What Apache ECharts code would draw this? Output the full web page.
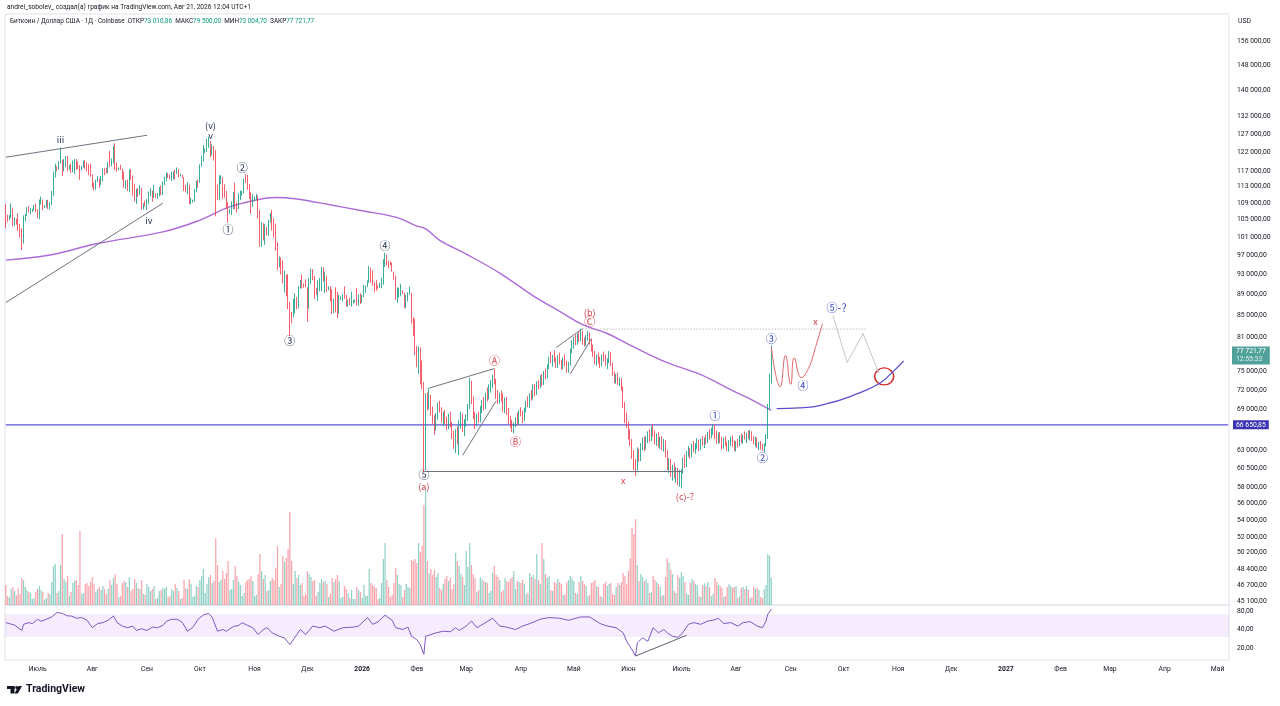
<!DOCTYPE html>
<html><head><meta charset="utf-8">
<script src="https://cdn.jsdelivr.net/npm/echarts@6/dist/echarts.min.js"></script>
<style>html,body{margin:0;padding:0;background:#fff}#c{width:1280px;height:706px}</style>
</head><body><div id="c"></div>
<script>
// ---------- DATA (prices in thousands USD, rows: [open, high, low, close]) ----------
const ohlc2025_06 = [[108.7,108.8,103.0,106.0],[106.0,106.2,104.5,105.5],[105.5,106.1,104.9,105.6],[105.6,108.9,105.4,107.1],[107.1,107.8,103.4,104.6],[104.6,105.6,103.6,104.9],[104.9,105.2,103.9,104.6],[104.6,106.5,102.4,103.3],[103.3,104.0,101.0,102.2],[102.2,103.0,98.2,100.9],[100.9,106.0,99.6,105.6],[105.6,106.3,104.6,106.0],[106.0,108.0,105.9,107.3],[107.3,108.2,106.7,106.9],[106.9,107.7,106.3,107.1],[107.1,107.6,106.8,107.4],[107.4,108.5,107.2,108.4],[108.4,108.8,106.8,107.1]];
const ohlc2025_07 = [[107.1,107.5,105.3,105.7],[105.7,109.8,105.1,108.8],[108.8,110.5,108.6,109.6],[109.6,109.8,107.3,108.0],[108.0,108.4,107.8,108.2],[108.2,109.7,107.9,109.2],[109.2,109.7,107.5,108.3],[108.3,109.2,107.4,108.9],[108.9,111.9,108.4,111.3],[111.3,116.8,110.6,115.9],[115.9,118.9,115.3,117.5],[117.5,118.2,116.9,117.4],[117.4,119.5,117.3,119.1],[119.1,123.2,118.9,119.8],[119.8,119.9,115.7,117.7],[117.7,120.1,116.9,118.7],[118.7,120.9,117.9,119.4],[119.4,120.9,116.9,117.9],[117.9,118.5,117.3,117.9],[117.9,118.9,116.5,117.3],[117.3,119.7,116.6,117.4],[117.4,120.2,116.2,119.9],[119.9,120.1,117.3,118.7],[118.7,119.5,117.5,118.3],[118.3,118.5,114.7,117.6],[117.6,118.3,117.2,117.9],[117.9,119.7,117.8,119.4],[119.4,119.8,117.5,118.0],[118.0,119.3,116.9,117.9],[117.9,118.7,115.9,117.8],[117.8,118.9,115.5,115.7]];
const ohlc2025_08 = [[115.7,116.1,112.7,113.3],[113.3,114.0,112.0,112.5],[112.5,114.7,112.2,114.2],[114.2,115.7,114.1,115.0],[115.0,115.1,112.7,114.1],[114.1,115.7,113.4,115.0],[115.0,117.6,114.3,117.5],[117.5,117.7,115.9,116.7],[116.7,117.8,116.3,116.5],[116.5,119.3,116.4,119.3],[119.3,122.3,118.1,118.7],[118.7,120.3,118.2,120.1],[120.1,123.7,118.9,123.3],[123.3,124.4,117.2,118.3],[118.3,119.2,116.8,117.4],[117.4,117.9,117.2,117.5],[117.5,118.6,117.2,117.4],[117.4,117.6,114.7,116.3],[116.3,116.8,112.7,112.9],[112.9,114.6,112.4,114.3],[114.3,114.8,111.9,112.4],[112.4,117.4,111.7,116.9],[116.9,117.4,114.7,115.4],[115.4,115.8,110.7,113.5],[113.5,113.7,109.3,110.1],[110.1,112.4,108.7,111.8],[111.8,112.6,110.4,111.2],[111.2,113.4,110.9,112.6],[112.6,112.7,107.4,108.4],[108.4,108.9,107.4,108.8],[108.8,109.5,108.1,108.2]];
const ohlc2025_09 = [[108.2,109.9,107.3,109.2],[109.2,111.8,108.7,111.2],[111.2,112.6,110.6,111.7],[111.7,112.0,109.3,110.7],[110.7,113.4,110.2,110.7],[110.7,111.3,110.2,110.2],[110.2,111.4,110.0,111.1],[111.1,112.9,110.6,112.1],[112.1,113.3,110.9,111.5],[111.5,114.3,110.9,113.9],[113.9,115.5,113.4,115.5],[115.5,116.6,114.3,116.0],[116.0,116.4,115.2,115.9],[115.9,116.1,114.8,115.3],[115.3,116.8,114.4,115.4],[115.4,116.9,114.8,116.8],[116.8,117.3,114.8,116.5],[116.5,117.9,116.2,117.1],[117.1,117.5,115.3,115.7],[115.7,116.3,115.6,115.7],[115.7,116.0,115.2,115.3],[115.3,115.4,111.9,112.7],[112.7,113.4,111.6,112.0],[112.0,114.0,111.1,113.3],[113.3,113.5,108.7,109.0],[109.0,110.3,108.6,109.7],[109.7,109.8,109.1,109.7],[109.7,112.4,109.3,112.1],[112.1,114.5,111.6,114.4],[114.4,114.8,112.7,114.1]];
const ohlc2025_10 = [[114.1,118.7,113.9,118.6],[118.6,121.0,118.2,120.6],[120.6,123.9,119.4,122.3],[122.3,122.9,121.7,122.4],[122.4,125.6,122.0,123.5],[123.5,126.2,123.1,124.8],[124.8,125.1,120.6,121.4],[121.4,124.1,121.1,123.3],[123.3,123.7,119.7,121.7],[121.7,122.5,105.8,113.2],[113.2,113.5,109.7,110.7],[110.7,115.8,109.6,115.1],[115.1,115.9,113.6,115.3],[115.3,115.4,110.0,113.0],[113.0,113.6,110.2,110.8],[110.8,111.9,107.5,108.2],[108.2,109.2,104.3,106.5],[106.5,107.5,106.4,107.2],[107.2,109.4,106.1,108.6],[108.6,111.7,107.5,110.5],[110.5,114.0,107.5,108.4],[108.4,109.1,106.7,107.6],[107.6,111.3,107.5,110.1],[110.1,112.0,109.7,111.0],[111.0,111.9,110.7,111.6],[111.6,115.0,111.3,114.5],[114.5,116.1,113.9,114.1],[114.1,116.0,112.2,112.9],[112.9,113.6,109.9,110.0],[110.0,111.6,106.4,108.3],[108.3,111.1,108.0,109.6]];
const ohlc2025_11 = [[109.6,110.5,109.4,110.1],[110.1,111.2,109.6,110.6],[110.6,110.8,105.3,106.5],[106.5,107.3,98.9,101.5],[101.5,104.5,98.9,103.9],[103.9,104.2,100.3,101.3],[101.3,104.0,99.3,103.3],[103.3,103.4,101.4,102.3],[102.3,105.0,101.3,104.7],[104.7,106.6,104.3,106.0],[106.0,107.3,102.5,103.0],[103.0,105.3,100.9,101.7],[101.7,104.1,98.0,99.7],[99.7,99.9,94.0,94.5],[94.5,96.8,94.5,95.6],[95.6,96.6,93.0,94.2],[94.2,96.0,91.2,92.2],[92.2,93.8,89.3,92.9],[92.9,92.9,88.6,91.5],[91.5,93.1,86.1,86.6],[86.6,87.5,81.2,85.1],[85.1,85.6,83.5,84.7],[84.7,88.1,84.6,86.8],[86.8,89.2,85.3,88.3],[88.3,88.5,86.1,87.3],[87.3,90.6,86.3,90.5],[90.5,91.9,90.1,91.3],[91.3,93.0,90.2,90.9],[90.9,91.2,90.3,90.8],[90.8,92.0,90.4,90.4]];
const ohlc2025_12 = [[90.4,90.4,83.8,86.3],[86.3,92.3,86.2,91.3],[91.3,94.2,91.0,93.5],[93.5,94.1,91.8,92.1],[92.1,92.7,88.1,89.4],[89.4,90.3,88.9,89.3],[89.3,91.8,87.7,90.4],[90.4,92.3,89.6,90.6],[90.6,94.6,89.6,92.7],[92.7,94.5,91.6,92.0],[92.0,93.6,89.3,92.5],[92.5,92.7,89.5,90.3],[90.3,90.6,89.8,90.3],[90.3,90.6,87.6,88.2],[88.2,90.0,85.2,86.4],[86.4,88.2,85.3,87.8],[87.8,90.4,85.5,86.2],[86.2,89.4,84.4,85.5],[85.5,88.9,85.2,88.1],[88.1,88.6,87.9,88.3],[88.3,89.0,87.6,88.6],[88.6,90.6,88.1,88.5],[88.5,88.9,86.6,87.4],[87.4,87.9,86.6,87.6],[87.6,88.3,86.9,87.2],[87.2,89.5,86.6,87.3],[87.3,87.9,87.2,87.8],[87.8,88.0,87.4,87.8],[87.8,90.3,86.8,87.1],[87.1,89.0,86.7,88.4],[88.4,89.2,87.1,87.5]];
const ohlc2026_01 = [[87.5,88.9,87.3,88.7],[88.7,90.9,88.4,90.0],[90.0,90.7,89.3,90.6],[90.6,91.8,90.4,91.5],[91.5,94.7,91.3,93.9],[93.9,94.4,91.3,93.7],[93.7,93.8,90.7,91.3],[91.3,91.5,89.4,91.0],[91.0,91.9,89.7,90.5],[90.5,90.8,90.1,90.4],[90.4,91.3,90.3,90.8],[90.8,92.4,90.2,91.2],[91.2,96.2,90.9,95.4],[95.4,97.6,94.6,97.0],[97.0,97.2,94.9,95.6],[95.6,95.9,94.3,95.5],[95.5,95.7,94.9,95.1],[95.1,95.5,93.6,93.6],[93.6,93.6,91.9,92.6],[92.6,92.8,87.9,88.3],[88.3,90.4,87.3,89.4],[89.4,90.3,88.4,89.5],[89.5,91.1,88.6,89.5],[89.5,89.8,89.1,89.2],[89.2,89.3,86.3,86.6],[86.6,88.9,86.3,88.3],[88.3,89.4,87.6,89.2],[89.2,90.5,88.9,89.2],[89.2,89.3,83.4,84.5],[84.5,84.6,81.1,84.1],[84.1,84.3,77.8,78.6]];
const ohlc2026_02 = [[78.6,79.4,75.7,77.0],[77.0,79.3,74.6,78.7],[78.7,79.1,72.9,75.7],[75.7,76.9,72.1,73.0],[73.0,73.3,60.1,62.9],[62.9,71.5,60.3,70.5],[70.5,71.6,68.8,69.3],[69.3,72.3,69.0,70.8],[70.8,71.2,68.0,68.7],[68.7,69.4,66.8,67.2],[67.2,68.1,65.2,66.1],[66.1,68.4,65.8,67.9],[67.9,70.0,67.4,69.6],[69.6,70.3,68.5,68.9],[68.9,69.3,67.0,67.5],[67.5,68.6,66.5,68.2],[68.2,68.9,66.7,67.0],[67.0,67.9,65.9,66.4],[66.4,68.3,66.0,67.8],[67.8,68.6,66.3,66.8],[66.8,67.1,64.6,65.0],[65.0,65.8,63.2,64.1],[64.1,66.0,62.6,65.6],[65.6,66.4,63.8,64.3],[64.3,67.4,62.3,67.0],[67.0,68.6,66.1,67.9],[67.9,68.3,65.6,66.2],[66.2,67.5,65.0,67.1]];
const ohlc2026_03 = [[67.1,68.2,66.4,67.6],[67.6,69.8,67.2,69.4],[69.4,74.0,69.0,72.8],[72.8,73.5,69.8,70.4],[70.4,71.0,67.5,68.0],[68.0,68.6,66.0,66.9],[66.9,68.3,66.5,67.8],[67.8,68.6,66.9,67.3],[67.3,69.5,67.0,69.1],[69.1,70.4,68.4,70.0],[70.0,70.9,68.8,69.4],[69.4,71.6,69.0,71.2],[71.2,72.4,70.2,70.8],[70.8,72.9,70.5,72.5],[72.5,73.6,71.6,73.2],[73.2,74.5,72.3,74.0],[74.0,75.4,72.9,73.4],[73.4,73.8,70.6,71.1],[71.1,72.0,69.8,70.5],[70.5,71.6,69.9,71.2],[71.2,71.9,70.2,70.6],[70.6,71.4,68.6,69.0],[69.0,70.8,68.4,70.2],[70.2,70.9,68.1,68.5],[68.5,69.2,66.8,67.3],[67.3,68.0,66.2,66.6],[66.6,67.4,65.6,66.0],[66.0,67.0,65.4,66.8],[66.8,67.8,66.3,67.4],[67.4,68.5,66.6,66.9],[66.9,68.9,66.7,68.6]];
const ohlc2026_04 = [[68.6,69.3,67.9,68.1],[68.1,68.8,66.9,67.5],[67.5,69.2,67.2,68.9],[68.9,70.3,68.5,70.0],[70.0,71.0,69.3,69.6],[69.6,71.5,69.2,71.1],[71.1,72.0,70.3,70.8],[70.8,72.9,70.5,72.5],[72.5,73.0,71.0,71.5],[71.5,73.4,71.2,73.0],[73.0,73.6,72.1,72.6],[72.6,74.4,72.3,74.0],[74.0,74.6,72.6,73.1],[73.1,75.1,72.8,74.8],[74.8,75.5,73.7,74.2],[74.2,76.2,73.9,75.9],[75.9,77.5,75.4,77.0],[77.0,78.4,76.4,76.9],[76.9,77.8,75.8,77.5],[77.5,78.6,76.6,77.0],[77.0,77.4,75.6,76.0],[76.0,77.8,75.6,77.4],[77.4,78.2,76.2,76.5],[76.5,77.0,75.3,75.8],[75.8,77.4,75.4,77.0],[77.0,77.9,75.9,76.3],[76.3,76.8,74.8,75.4],[75.4,76.6,74.8,76.3],[76.3,78.9,76.0,78.6],[78.6,80.4,78.1,79.8]];
const ohlc2026_05 = [[79.8,81.0,78.9,80.6],[80.6,81.4,79.5,80.1],[80.1,81.6,79.6,81.2],[81.2,82.0,80.1,80.6],[80.6,82.4,80.2,81.8],[81.8,82.1,79.6,80.1],[80.1,80.9,79.3,79.8],[79.8,81.3,79.4,81.0],[81.0,82.1,80.3,81.6],[81.6,81.8,79.6,80.0],[80.0,80.6,78.4,78.8],[78.8,79.6,77.5,77.9],[77.9,78.5,76.2,76.6],[76.6,77.9,76.0,77.4],[77.4,78.2,76.3,76.8],[76.8,77.5,75.6,76.1],[76.1,77.9,75.8,77.6],[77.6,78.4,76.7,77.0],[77.0,77.9,75.9,76.3],[76.3,77.2,75.4,76.8],[76.8,78.5,76.4,78.1],[78.1,78.3,75.9,76.2],[76.2,76.5,74.3,74.6],[74.6,75.0,73.1,73.5],[73.5,74.6,73.0,74.3],[74.3,74.8,72.8,73.2],[73.2,74.0,72.6,73.7],[73.7,73.9,71.9,72.3],[72.3,72.6,69.2,69.7],[69.7,70.1,66.9,67.3],[67.3,68.5,66.2,66.8]];
const ohlc2026_06 = [[66.8,67.2,64.5,65.0],[65.0,66.0,63.6,64.1],[64.1,64.6,61.8,62.3],[62.3,63.0,60.3,60.9],[60.9,61.8,59.5,60.4],[60.4,63.4,60.2,62.8],[62.8,63.2,61.4,61.9],[61.9,64.0,61.5,63.6],[63.6,64.8,63.0,64.3],[64.3,64.9,62.9,63.5],[63.5,65.0,63.1,64.7],[64.7,65.7,64.0,65.3],[65.3,66.0,64.2,64.6],[64.6,66.4,64.3,66.0],[66.0,66.8,64.9,65.3],[65.3,65.8,63.8,64.2],[64.2,65.4,63.6,65.0],[65.0,65.6,63.4,63.8],[63.8,64.9,63.2,64.5],[64.5,65.0,63.0,63.4],[63.4,64.6,62.8,64.1],[64.1,64.4,62.0,62.4],[62.4,63.0,60.3,60.8],[60.8,61.9,59.9,61.5],[61.5,61.8,59.4,59.9],[59.9,61.0,58.9,60.6],[60.6,61.3,59.2,59.6],[59.6,60.7,58.6,60.2],[60.2,60.6,58.3,58.8],[58.8,60.3,58.1,59.9]];
const ohlc2026_07 = [[59.9,60.4,57.9,60.1],[60.1,62.0,59.8,61.7],[61.7,62.4,60.6,61.0],[61.0,62.9,60.7,62.6],[62.6,63.6,62.1,62.9],[62.9,63.3,61.8,62.2],[62.2,63.9,62.0,63.6],[63.6,64.3,62.7,63.1],[63.1,64.0,62.5,63.8],[63.8,64.7,63.2,64.1],[64.1,64.5,62.9,63.3],[63.3,64.6,63.0,64.4],[64.4,65.0,63.6,63.9],[63.9,64.8,63.3,64.5],[64.5,65.2,63.8,64.2],[64.2,65.6,64.0,65.3],[65.3,66.0,64.5,65.0],[65.0,66.2,64.7,65.9],[65.9,66.7,65.2,66.3],[66.3,66.7,64.6,65.0],[65.0,65.8,63.9,64.3],[64.3,65.5,63.9,65.2],[65.2,65.6,64.0,64.4],[64.4,64.9,63.1,63.5],[63.5,64.8,63.2,64.5],[64.5,65.0,63.6,63.9],[63.9,64.2,62.9,63.2],[63.2,64.4,62.8,64.1],[64.1,64.9,63.6,64.6],[64.6,65.1,63.5,63.8],[63.8,64.4,62.9,63.3]];
const ohlc2026_08 = [[63.3,64.3,62.8,64.0],[64.0,64.6,63.4,63.9],[63.9,65.1,63.6,64.8],[64.8,65.4,64.0,64.3],[64.3,65.2,63.9,65.0],[65.0,65.7,64.5,64.8],[64.8,65.5,64.0,65.2],[65.2,65.8,64.6,65.0],[65.0,65.9,64.4,65.5],[65.5,65.7,64.3,64.6],[64.6,65.0,63.8,64.1],[64.1,64.9,63.5,64.5],[64.5,64.8,63.3,63.6],[63.6,64.2,63.0,63.9],[63.9,64.3,63.1,63.4],[63.4,63.9,62.9,63.2],[63.2,64.0,62.7,63.8],[63.8,65.3,63.5,64.9],[64.9,69.8,64.6,69.4],[69.4,74.6,68.9,73.01086],[73.01086,79.5,73.0047,77.72177]];

// Volume, thousands BTC per day
const vol2025_06 = [4.0,1.8,1.5,3.2,3.6,2.8,1.9,3.4,2.2,5.4,5.0,3.6,3.0,2.6,2.4,1.2,1.4,2.6];
const vol2025_07 = [3.2,3.8,3.0,2.6,1.1,1.4,2.4,2.2,4.6,7.8,8.2,2.4,2.8,8.0,14.2,5.2,4.6,5.8,1.8,2.6,4.4,4.8,5.0,4.0,14.8,2.2,2.4,4.2,4.4,3.8,4.6];
const vol2025_08 = [5.6,4.2,2.6,3.2,3.6,3.0,3.8,3.2,2.2,3.2,5.0,4.0,5.4,6.2,4.2,1.6,1.8,4.4,4.8,4.6,3.6,5.6,2.8,3.2,5.2,4.4,3.4,3.2,5.0,2.2,2.0];
const vol2025_09 = [4.2,3.6,2.8,3.2,3.8,1.2,1.4,2.8,3.0,3.4,3.2,3.6,1.6,1.8,3.2,2.8,4.2,3.4,2.8,1.2,1.4,5.0,3.4,3.2,5.2,4.2,1.6,1.8,3.8,3.6];
const vol2025_10 = [5.0,5.8,7.2,2.4,4.2,5.6,6.0,4.4,4.8,13.4,8.0,4.6,5.0,6.8,5.2,6.4,8.8,3.0,3.2,5.0,7.8,5.8,4.6,4.0,1.8,2.4,4.6,5.0,5.2,5.8,4.8];
const vol2025_11 = [1.8,2.0,6.2,10.2,6.8,5.2,6.0,2.8,3.0,4.8,5.4,5.0,7.4,11.8,3.6,4.2,9.8,8.6,9.4,11.2,18.6,8.8,4.2,6.8,5.4,6.0,4.0,4.4,1.8,2.2];
const vol2025_12 = [6.8,6.2,5.6,4.8,5.0,1.8,2.6,4.4,5.2,4.6,4.8,4.2,1.6,2.2,5.4,4.6,5.2,6.0,4.8,1.4,1.6,3.8,3.2,2.4,1.4,3.0,1.2,1.2,3.6,3.0,2.6];
const vol2026_01 = [1.4,4.0,1.8,1.8,7.2,4.4,4.0,3.6,3.4,1.2,1.4,4.4,9.2,12.4,5.0,3.6,1.6,2.0,4.4,7.4,6.0,4.2,4.0,1.6,3.0,4.2,3.6,3.4,9.0,8.8,9.2];
const vol2026_02 = [8.4,12.4,10.6,11.8,20.0,23.4,8.8,6.4,7.2,6.0,7.0,5.6,6.4,3.4,3.0,4.2,5.2,5.8,4.8,5.4,3.2,4.2,10.4,8.8,7.8,6.2,5.6,4.0];
const vol2026_03 = [10.8,7.6,12.4,8.0,6.2,5.4,2.6,3.0,5.6,5.2,4.8,4.6,4.4,2.4,2.8,6.4,7.8,6.0,5.6,5.0,2.6,3.0,5.4,4.8,4.6,5.2,5.6,6.8,3.2,4.8,4.6];
const vol2026_04 = [4.4,5.0,4.2,2.2,2.4,6.4,5.6,6.0,5.2,10.2,5.0,4.2,12.4,9.2,6.2,5.4,5.8,3.0,2.8,4.6,4.4,5.2,4.6,4.2,2.0,2.2,4.6,5.0,5.8,5.4];
const vol2026_05 = [4.8,2.4,2.2,4.6,5.8,4.8,4.2,3.8,1.8,2.0,4.4,4.6,5.0,3.8,3.6,1.8,1.6,4.2,4.6,3.8,4.2,4.4,2.2,2.0,3.6,4.4,4.0,4.6,6.4,5.8,4.2];
const vol2026_06 = [6.8,9.4,15.4,14.2,17.2,8.0,4.8,6.2,5.6,4.8,5.2,4.4,2.4,2.6,5.8,5.0,4.6,4.2,3.6,1.8,2.0,5.6,9.4,8.4,7.0,6.2,2.8,2.4,6.0,5.4];
const vol2026_07 = [6.6,5.8,4.6,2.2,2.0,4.4,5.2,4.8,4.2,4.0,1.8,1.6,4.0,4.4,3.8,4.6,3.6,1.8,2.2,5.4,4.6,4.0,3.8,3.4,1.6,1.8,3.6,4.2,3.8,3.4,3.6];
const vol2026_08 = [3.8,1.4,1.8,3.4,3.6,3.2,3.8,3.0,1.4,1.6,3.6,3.2,3.4,3.0,1.6,1.4,3.2,4.0,10.2,9.8,5.4];

// 200-day moving average (thousands USD)
const ma200 = [['2025-06-13',96.0],['2025-07-08',97.1],['2025-08-04',99.6],['2025-09-10',102.2],['2025-10-01',104.9],['2025-10-17',107.9],['2025-11-01',109.6],['2025-11-13',110.3],['2025-11-24',110.0],['2025-12-13',108.6],['2026-01-01',107.1],['2026-01-20',105.6],['2026-01-31',103.7],['2026-02-06',102.9],['2026-02-14',100.3],['2026-03-01',97.3],['2026-03-20',93.3],['2026-04-08',88.7],['2026-04-23',85.7],['2026-05-06',83.2],['2026-05-20',81.6],['2026-06-04',79.2],['2026-06-23',76.5],['2026-07-12',74.5],['2026-07-30',71.9],['2026-08-11',70.3],['2026-08-21',68.8]];

// RSI(14)
const rsi14 = [['2025-06-13',51.5],['2025-06-15',49.6],['2025-06-18',47.0],['2025-06-22',38.4],['2025-06-23',48.3],['2025-06-26',51.5],['2025-06-28',49.6],['2025-07-01',58.4],['2025-07-03',54.1],['2025-07-06',58.4],['2025-07-09',63.7],['2025-07-12',75.3],['2025-07-15',72.5],['2025-07-18',66.1],['2025-07-20',66.1],['2025-07-23',60.6],['2025-07-26',62.2],['2025-07-29',56.2],['2025-08-01',42.6],['2025-08-04',49.6],['2025-08-07',51.5],['2025-08-10',56.2],['2025-08-13',66.1],['2025-08-15',51.5],['2025-08-18',45.3],['2025-08-21',42.6],['2025-08-24',45.3],['2025-08-26',38.4],['2025-08-29',41.0],['2025-09-01',38.4],['2025-09-04',43.5],['2025-09-07',42.6],['2025-09-10',46.4],['2025-09-12',54.1],['2025-09-15',58.4],['2025-09-18',58.4],['2025-09-21',52.0],['2025-09-24',37.4],['2025-09-27',43.1],['2025-09-30',58.4],['2025-10-03',68.7],['2025-10-06',72.5],['2025-10-08',62.9],['2025-10-11',37.4],['2025-10-14',39.8],['2025-10-16',37.4],['2025-10-20',44.6],['2025-10-23',46.4],['2025-10-25',51.5],['2025-10-28',46.4],['2025-10-31',42.6],['2025-11-03',33.0],['2025-11-06',39.8],['2025-11-08',42.6],['2025-11-11',35.2],['2025-11-15',30.9],['2025-11-18',29.1],['2025-11-21',22.6],['2025-11-25',33.0],['2025-11-27',39.8],['2025-11-30',33.0],['2025-12-04',45.3],['2025-12-08',42.6],['2025-12-11',45.3],['2025-12-16',37.4],['2025-12-21',42.6],['2025-12-27',43.5],['2025-12-30',45.3],['2026-01-04',62.2],['2026-01-07',48.3],['2026-01-10',53.3],['2026-01-14',67.9],['2026-01-18',56.2],['2026-01-20',42.6],['2026-01-24',39.8],['2026-01-27',43.5],['2026-01-29',30.9],['2026-02-01',27.3],['2026-02-03',22.6],['2026-02-05',15.8],['2026-02-06',30.9],['2026-02-09',33.0],['2026-02-12',35.2],['2026-02-16',37.4],['2026-02-20',36.6],['2026-02-23',42.6],['2026-02-25',38.4],['2026-03-01',45.3],['2026-03-04',54.7],['2026-03-07',42.6],['2026-03-11',49.6],['2026-03-16',60.6],['2026-03-20',45.3],['2026-03-24',43.5],['2026-03-29',39.8],['2026-04-02',45.3],['2026-04-06',49.6],['2026-04-12',58.4],['2026-04-17',62.2],['2026-04-23',60.6],['2026-04-28',56.2],['2026-05-05',63.7],['2026-05-10',63.7],['2026-05-16',49.6],['2026-05-20',45.3],['2026-05-25',42.6],['2026-05-29',35.2],['2026-05-31',25.6],['2026-06-03',18.7],['2026-06-05',14.8],['2026-06-06',24.1],['2026-06-09',29.1],['2026-06-12',25.6],['2026-06-15',42.6],['2026-06-18',35.2],['2026-06-21',39.8],['2026-06-23',35.2],['2026-06-26',30.9],['2026-06-29',29.7],['2026-07-01',33.0],['2026-07-05',48.3],['2026-07-08',51.5],['2026-07-12',48.3],['2026-07-16',54.7],['2026-07-19',56.2],['2026-07-22',60.6],['2026-07-25',49.6],['2026-07-29',51.5],['2026-08-02',45.3],['2026-08-05',51.5],['2026-08-09',53.3],['2026-08-13',45.3],['2026-08-16',42.6],['2026-08-18',54.7],['2026-08-19',70.5],['2026-08-21',85.3]];

// Axis tick labels
const priceTicks = [156000,148000,140000,132000,127000,122000,117000,113000,109000,105000,101000,97000,93000,89000,85000,81000,75000,72000,69000,63000,60500,58000,56000,54000,52000,50200,48400,46700,45100];
const rsiTicks = [80,40,20];
const monthNames = ['Янв','Фев','Мар','Апр','Май','Июн','Июль','Авг','Сен','Окт','Ноя','Дек'];

// Levels
const keyLevel = 66650.85;
const lastPrice = 77721.77;

// Elliott-wave annotations: text, date, price (k USD), colour group
const waveLabels = [
  ['iii','2025-07-14',125.5,'dark'],['iv','2025-09-02',104.9,'dark'],['(v)','2025-10-07',129.4,'dark'],['v','2025-10-07',126.4,'dark'],
  ['①','2025-10-17',102.6,'dark'],['②','2025-10-25',117.7,'dark'],['③','2025-11-21',80.3,'dark'],['④','2026-01-14',99.2,'dark'],['⑤','2026-02-05',59.6,'dark'],
  ['(a)','2026-02-05',58.1,'red'],['Ⓐ','2026-03-17',76.8,'red'],['Ⓑ','2026-03-29',64.2,'red'],['(b)','2026-05-10',85.5,'red'],['Ⓒ','2026-05-10',83.8,'red'],
  ['x','2026-05-29',58.9,'red'],['(c)-?','2026-07-03',56.9,'red'],['x','2026-09-15',83.8,'red'],
  ['①','2026-07-20',68.0,'blue'],['②','2026-08-16',61.9,'blue'],['③','2026-08-21',80.6,'blue'],['④','2026-09-08',72.7,'blue'],['⑤-?','2026-09-27',86.3,'blue']
];

// Drawn lines: [[date, price],[date, price]] in k USD
const trendLines = [
  [['2025-06-13',120.6],['2025-09-01',126.6]],
  [['2025-06-13',87.4],['2025-09-10',108.9]],
  [['2026-02-08',72.3],['2026-03-17',75.5]],
  [['2026-02-27',62.3],['2026-03-18',70.3]],
  [['2026-04-21',79.1],['2026-05-06',82.5]],
  [['2026-04-29',74.6],['2026-05-11',80.7]],
  [['2026-02-05',60.1],['2026-07-02',60.1]]
];
const dottedLevel = [['2026-05-06',82.4],['2026-10-14',82.4]];
const redPath = [['2026-08-21',79.1],['2026-08-26',72.5],['2026-08-29',77.7],['2026-09-01',72.9],['2026-09-03',77.3],['2026-09-07',74.0],['2026-09-11',75.5],['2026-09-15',79.1],['2026-09-19',83.4]];
const grayPath = [['2026-09-25',84.9],['2026-10-03',76.5],['2026-10-12',81.6],['2026-10-21',74.7]];
const bluePath = [['2026-08-24',69.1],['2026-09-06',69.2],['2026-09-21',69.8],['2026-10-06',71.1],['2026-10-21',73.0],['2026-10-28',74.7],['2026-11-04',76.8]];
const targetCircle = ['2026-10-24',74.2];
const rsiTrend = [['2026-06-05',14.8],['2026-07-04',32.1]];

// ---------- BUILD ----------
const FONT = "Roboto, 'Noto Sans', sans-serif";
const CJK = "'Noto Sans CJK SC', 'DejaVu Sans', sans-serif";
const FS = 6.8;
const UP = '#089981', DN = '#f23645';
const UPV = 'rgba(8,153,129,0.45)', DNV = 'rgba(242,54,69,0.45)';
const TEXT = '#131722';
const LEVEL_COLOR = '#5b52d9';

const dates = [];
for (let i = 0; i < 694; i++) dates.push(new Date(Date.UTC(2025,5,13) + i*864e5).toISOString().slice(0,10));

const ohlc = [].concat(ohlc2025_06,ohlc2025_07,ohlc2025_08,ohlc2025_09,ohlc2025_10,ohlc2025_11,ohlc2025_12,ohlc2026_01,ohlc2026_02,ohlc2026_03,ohlc2026_04,ohlc2026_05,ohlc2026_06,ohlc2026_07,ohlc2026_08);
const vols = [].concat(vol2025_06,vol2025_07,vol2025_08,vol2025_09,vol2025_10,vol2025_11,vol2025_12,vol2026_01,vol2026_02,vol2026_03,vol2026_04,vol2026_05,vol2026_06,vol2026_07,vol2026_08);
const K = v => v*1000;
const candleData = ohlc.map(r => [K(r[0]), K(r[3]), K(r[2]), K(r[1])]);
const volData = vols.map((v,i) => ({value: v, itemStyle: {color: (ohlc[i] && ohlc[i][3] >= ohlc[i][0]) ? UPV : DNV}}));
const kPairs = arr => arr.map(p => [p[0], K(p[1])]);

function fmt(v){ const s = v.toFixed(2).split('.'); return s[0].replace(/\B(?=(\d{3})+(?!\d))/g,' ') + ',' + s[1]; }

const colorMap = {dark:'#2a3557', red:'#d63c47', blue:'#3347c4'};

const series = [];
series.push({
  type:'candlestick', xAxisIndex:0, yAxisIndex:0, data:candleData, barWidth:'55%', z:5,
  itemStyle:{color:UP, color0:DN, borderColor:UP, borderColor0:DN, borderWidth:0.8},
  markLine:{silent:true, symbol:['none','none'], animation:false, data:[
    {yAxis:keyLevel, lineStyle:{color:'rgba(0,0,0,0)', width:0},
     label:{show:true, position:'end', distance:4, formatter:fmt(keyLevel), color:'#fff', backgroundColor:'#3b33b3', padding:[1,3], fontSize:FS, fontFamily:FONT}},
    {yAxis:lastPrice, lineStyle:{color:'rgba(0,0,0,0)', width:0},
     label:{show:true, position:'end', distance:3, formatter:'{a|'+fmt(lastPrice)+'}\n{b|12:55:33}', backgroundColor:'#4fa19a', padding:[1,4],
       rich:{a:{color:'#fff', fontSize:FS, fontFamily:FONT, lineHeight:8}, b:{color:'#dff2ef', fontSize:FS, fontFamily:FONT, lineHeight:8}}}}
  ]},
  markPoint:{silent:true, animation:false, data: waveLabels.map(w => ({
    coord:[w[1], K(w[2])], symbol:'circle', symbolSize:0,
    label:{show:true, position:'inside', formatter:w[0], color:colorMap[w[3]], fontSize: /[①-⑤Ⓐ-Ⓒ]/.test(w[0]) ? 11 : 9, fontFamily:CJK}
  })).concat([{coord:[targetCircle[0], K(targetCircle[1])], symbol:'circle', symbolSize:[19,17],
    itemStyle:{color:'rgba(0,0,0,0)', borderColor:'#d32f2f', borderWidth:1.5}, label:{show:false}}])}
});
series.push({type:'bar', xAxisIndex:1, yAxisIndex:1, data:volData, barWidth:'70%', z:1, silent:true});
// horizontal key level drawn as a line across the whole date range
series.push({type:'line', xAxisIndex:0, yAxisIndex:0, data:[[dates[0], keyLevel],[dates[dates.length-1], keyLevel]], showSymbol:false, z:4, silent:true,
  lineStyle:{color:LEVEL_COLOR, width:1.2}});
series.push({type:'line', xAxisIndex:0, yAxisIndex:0, data:kPairs(ma200), smooth:0.4, showSymbol:false, z:4,
  lineStyle:{color:'#ad6bd9', width:1.4}, silent:true});
trendLines.forEach(t => series.push({type:'line', xAxisIndex:0, yAxisIndex:0, data:kPairs(t), showSymbol:false, z:6, silent:true,
  lineStyle:{color:'#6f7380', width:1}}));
series.push({type:'line', xAxisIndex:0, yAxisIndex:0, data:kPairs(dottedLevel), showSymbol:false, z:6, silent:true, lineStyle:{color:'#9a9ca6', width:1, type:[1,2]}});
series.push({type:'line', xAxisIndex:0, yAxisIndex:0, data:kPairs(redPath), smooth:0.5, showSymbol:false, z:6, silent:true, lineStyle:{color:'#e06666', width:1}});
series.push({type:'line', xAxisIndex:0, yAxisIndex:0, data:kPairs(grayPath), showSymbol:false, z:6, silent:true, lineStyle:{color:'#c4c6cc', width:1}});
series.push({type:'line', xAxisIndex:0, yAxisIndex:0, data:kPairs(bluePath), smooth:0.5, showSymbol:false, z:6, silent:true, lineStyle:{color:'#5a4fd0', width:1.3}});
series.push({type:'line', xAxisIndex:2, yAxisIndex:2, data:rsi14, showSymbol:false, z:5, silent:true, lineStyle:{color:'#7e57c2', width:1},
  markArea:{silent:true, itemStyle:{color:'rgba(156,82,232,0.1)'}, data:[[{yAxis:30},{yAxis:70}]]}});
series.push({type:'line', xAxisIndex:2, yAxisIndex:2, data:rsiTrend, showSymbol:false, z:6, silent:true, lineStyle:{color:'#5d6070', width:1}});

const hiddenX = idx => ({type:'category', gridIndex:idx, data:dates, boundaryGap:true, axisLine:{show:false}, axisTick:{show:false}, axisLabel:{show:false}, splitLine:{show:false}});

const option = {
  animation:false,
  backgroundColor:'#ffffff',
  grid:[
    {left:5, right:51, top:14, bottom:101, show:true, borderColor:'#e0e3eb', borderWidth:1},
    {left:5, right:51, top:465, bottom:101},
    {left:5, right:51, top:605, bottom:46, show:true, borderColor:'#e0e3eb', borderWidth:1}
  ],
  xAxis:[hiddenX(0), hiddenX(1), {
    type:'category', gridIndex:2, data:dates, boundaryGap:true,
    axisLine:{show:false}, axisTick:{show:false}, splitLine:{show:false},
    axisLabel:{show:true, interval:(i,v) => v.slice(8) === '01', margin:6, fontSize:FS, color:TEXT, fontFamily:FONT,
      formatter: v => { const m = +v.slice(5,7); return m === 1 ? '{y|' + v.slice(0,4) + '}' : monthNames[m-1]; },
      rich:{y:{fontWeight:'bold', fontSize:FS, color:TEXT, fontFamily:FONT}}}
  }],
  yAxis:[
    {type:'log', gridIndex:0, position:'right', min:44710, max:165640, logBase:10,
     axisLine:{show:false}, axisTick:{show:false}, splitLine:{show:false},
     axisLabel:{show:true, customValues:priceTicks, formatter: v => fmt(v), fontSize:FS, color:TEXT, fontFamily:FONT, margin:8, align:'left'}},
    {type:'value', gridIndex:1, min:0, max:28, show:false, splitLine:{show:false}},
    {type:'log', gridIndex:2, position:'right', min:12.76, max:99.4, logBase:10,
     axisLine:{show:false}, axisTick:{show:false}, splitLine:{show:false},
     axisLabel:{show:true, customValues:rsiTicks, formatter: v => fmt(v), fontSize:FS, color:TEXT, fontFamily:FONT, margin:8, align:'left'}}
  ],
  series: series,
  graphic:[
    {type:'text', left:7, top:4, silent:true, style:{text:'andrei_sobolev_ создал(а) график на TradingView.com, Авг 21, 2026 12:04 UTC+1', fill:TEXT, font:'6.6px ' + FONT}},
    {type:'text', left:10, top:18, silent:true, style:{
      text:'{a|Биткоин / Доллар США · 1Д · Coinbase  ОТКР}{v|73 010,86}{a|  МАКС}{v|79 500,00}{a|  МИН}{v|73 004,70}{a|  ЗАКР}{v|77 721,77}',
      rich:{a:{fill:TEXT, fontSize:6.4, fontFamily:FONT}, v:{fill:UP, fontSize:6.4, fontFamily:FONT}}}},
    {type:'text', left:1238, top:18, silent:true, style:{text:'USD', fill:TEXT, font:FS + 'px ' + FONT}},
    {type:'rect', silent:true, shape:{x:7, y:686, width:7.5, height:3}, style:{fill:TEXT}},
    {type:'rect', silent:true, shape:{x:10.5, y:686, width:4, height:7.5}, style:{fill:TEXT}},
    {type:'circle', silent:true, shape:{cx:16.8, cy:687.6, r:1.6}, style:{fill:TEXT}},
    {type:'polygon', silent:true, shape:{points:[[14.5,693.5],[18.6,686],[22,686],[17.9,693.5]]}, style:{fill:TEXT}},
    {type:'text', left:26, top:684, silent:true, style:{text:'TradingView', fill:TEXT, font:'bold 10.5px ' + FONT}}
  ]
};

const chart = echarts.init(document.getElementById('c'), null, {renderer:'canvas'});
chart.setOption(option);
</script>
</body></html>
